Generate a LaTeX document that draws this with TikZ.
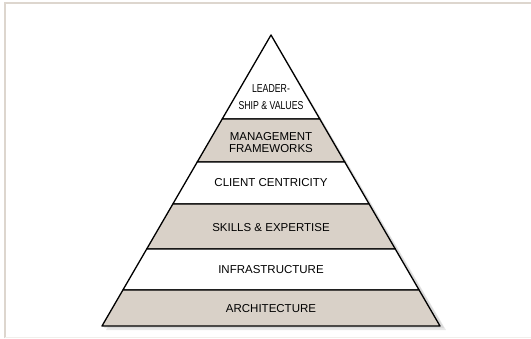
\documentclass[tikz,border=0pt]{standalone}
\usepackage{fontspec}
\setsansfont{Liberation Sans}
\usetikzlibrary{positioning}
\definecolor{pyrsand}{HTML}{D9D1C8}
\definecolor{pyrframe}{HTML}{DDD6CE}
\definecolor{pyrshade}{HTML}{BDBDBD}
\newcommand{\squeezed}[1]{\scalebox{0.76}[1]{#1}}

\begin{document}
\begin{tikzpicture}[x=1pt, y=-1pt,
  tier/.style={font=\sffamily\fontsize{11.5}{11.5}\selectfont, align=center, inner sep=1pt},
  band/.style={draw=black, line width=1.3pt, line join=round}
]
\useasboundingbox (0,0) rectangle (531,338);
% page frame
\draw[pyrframe, line width=2pt] (5,338) -- (5,3) -- (531,3);
\draw[pyrframe!40, line width=.6pt] (5,337.5) -- (531,337.5);
% soft shadow behind the pyramid
\fill[pyrshade, opacity=.35] (273,37) -- (446,330) -- (106,330) -- cycle;
\fill[pyrshade, opacity=.35] (272,36) -- (444,328) -- (104,328) -- cycle;
% bands, top to bottom
\foreach \ya/\yb/\col in {35/119/white, 119/162/pyrsand, 162/204/white,
                          204/249/pyrsand, 249/290/white, 290/326/pyrsand}{
  \pgfmathsetmacro\wa{0.5808*(\ya-35)}
  \pgfmathsetmacro\wb{0.5808*(\yb-35)}
  \filldraw[band, fill=\col] (271-\wa,\ya) -- (271+\wa,\ya) -- (271+\wb,\yb)
    -- (271-\wb,\yb) -- cycle;
}
% tier labels
\node[tier] (lead) at (271,97.5) {\squeezed{LEADER-}\\[5.5pt]\squeezed{SHIP \& VALUES}};
\node[tier] (mgmt) at (271,142.5) {MANAGEMENT\\FRAMEWORKS};
\node[tier] (client) at (271,183) {CLIENT CENTRICITY};
\node[tier] (skills) at (271,228) {SKILLS \& EXPERTISE};
\node[tier] (infra) at (271,270) {INFRASTRUCTURE};
\node[tier] (arch) at (271,309) {ARCHITECTURE};
\end{tikzpicture}
\end{document}
